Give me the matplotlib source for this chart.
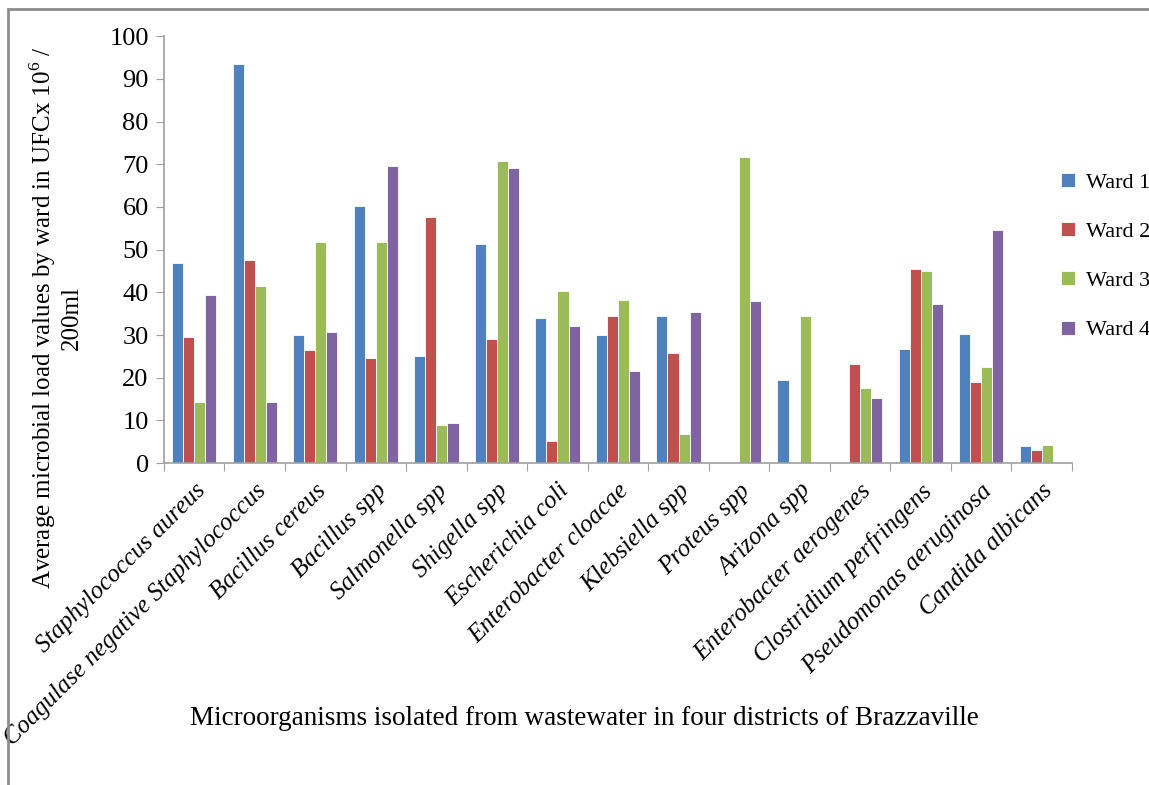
import matplotlib.pyplot as plt
from matplotlib.patches import Rectangle
import numpy as np

plt.rcParams['font.family'] = ['Liberation Serif', 'DejaVu Serif']
plt.rcParams['mathtext.fontset'] = 'custom'
plt.rcParams['mathtext.rm'] = 'Liberation Serif'

organisms = [
    "Staphylococcus aureus", "Coagulase negative Staphylococcus", "Bacillus cereus",
    "Bacillus spp", "Salmonella spp", "Shigella spp", "Escherichia coli",
    "Enterobacter cloacae", "Klebsiella spp", "Proteus spp", "Arizona spp",
    "Enterobacter aerogenes", "Clostridium perfringens", "Pseudomonas aeruginosa",
    "Candida albicans",
]
ward1 = [46.8, 93.4, 30.0, 60.3, 25.2, 51.4, 34.0, 30.0, 34.5, 0, 19.5, 0, 26.7, 30.2, 3.9]
ward2 = [29.6, 47.6, 26.5, 24.6, 57.6, 29.1, 5.2, 34.5, 25.9, 0, 0, 23.2, 45.5, 18.9, 3.0]
ward3 = [14.4, 41.4, 51.7, 51.7, 9.0, 70.8, 40.4, 38.2, 6.8, 71.6, 34.5, 17.6, 45.0, 22.4, 4.2]
ward4 = [39.3, 14.4, 30.7, 69.5, 9.3, 69.2, 32.1, 21.6, 35.3, 38.0, 0, 15.2, 37.2, 54.6, 0]

wards = {"Ward 1": ward1, "Ward 2": ward2, "Ward 3": ward3, "Ward 4": ward4}
colors = ["#4f81bd", "#c0504d", "#9bbb59", "#8064a2"]

fig = plt.figure(figsize=(11.49, 7.85), dpi=100)
ax = fig.add_axes([0.1427, 0.410, 0.7903, 0.544])

x = np.arange(len(organisms))
width = 0.183
multiplier = -1.5
for (name, vals), c in zip(wards.items(), colors):
    ax.bar(x + multiplier * width, vals, width, label=name, color=c,
           edgecolor="white", linewidth=0.6)
    multiplier += 1

ax.set_xlim(-0.5, len(organisms) - 0.5)
ax.set_ylim(0, 100)
ax.set_yticks(range(0, 101, 10))
ax.set_xticks(np.arange(len(organisms) + 1) - 0.5, minor=False)
ax.set_xticklabels([])
ax.set_xticks(x, minor=True)
ax.set_xticklabels(organisms, minor=True, rotation=45, ha="right",
                   rotation_mode="anchor", style="italic", fontsize=18)
ax.tick_params(axis="x", which="minor", length=0, pad=12)
ax.tick_params(axis="x", which="major", length=6, color="#a0a0a0", direction="out")
ax.tick_params(axis="y", length=6, color="#a0a0a0", labelsize=19, pad=5)

for s in ["top", "right"]:
    ax.spines[s].set_visible(False)
for s in ["left", "bottom"]:
    ax.spines[s].set_color("#a0a0a0")
    ax.spines[s].set_linewidth(1.2)

fig.text(0.048, 0.595, "Average microbial load values by ward in UFCx 10$^6$ /\n200ml",
         rotation=90, ha="center", va="center", multialignment="center", fontsize=18)
fig.text(0.509, 0.085, "Microorganisms isolated from wastewater in four districts of Brazzaville",
         ha="center", va="center", fontsize=19.5)

fig.legend(loc="center left", bbox_to_anchor=(0.914, 0.673), frameon=False,
           fontsize=16, borderpad=0, labelspacing=1.32, handlelength=0.6,
           handleheight=0.6, handletextpad=0.5)

fig.patches.append(Rectangle((8 / 1149, -0.1), 1.2, 1 - 9 / 785 + 0.1,
                             transform=fig.transFigure, fill=False,
                             edgecolor="#8c8c8c", linewidth=2))

fig.savefig("out.png", dpi=100)
